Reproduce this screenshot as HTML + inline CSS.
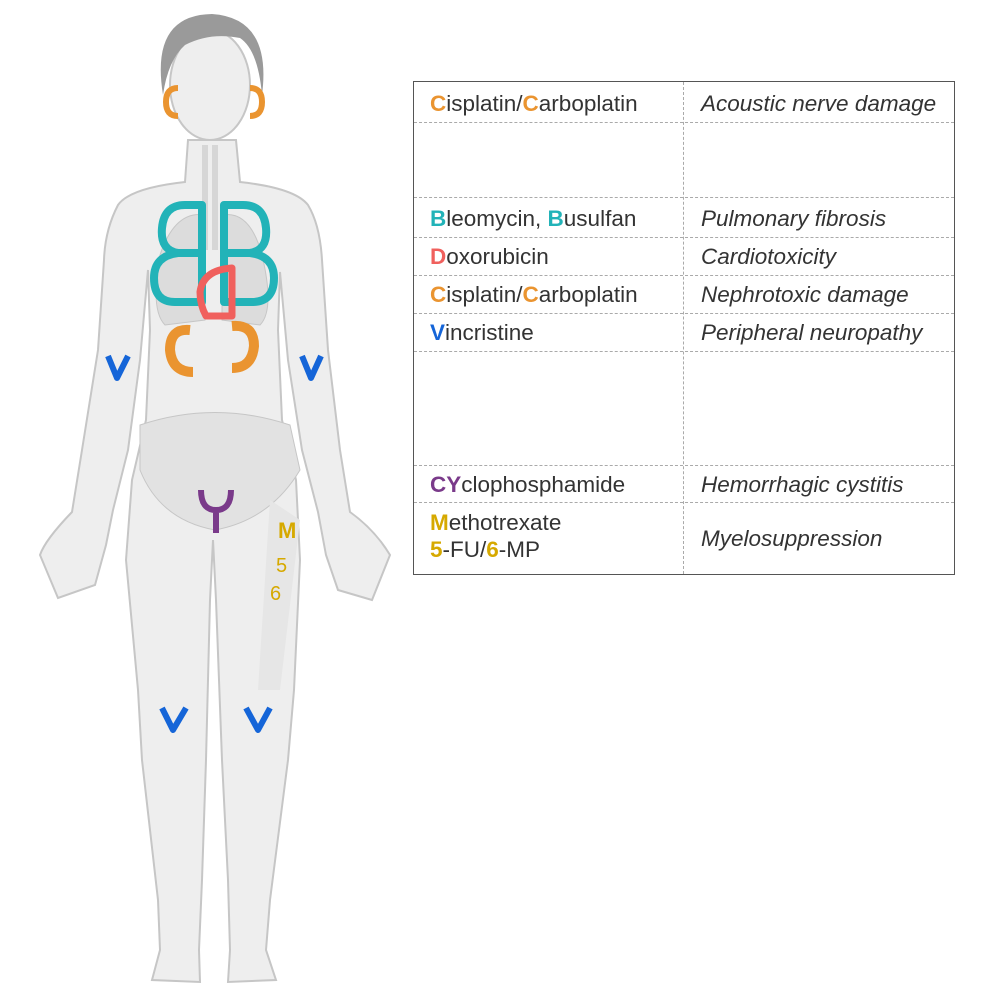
<!DOCTYPE html>
<html><head><style>
body{margin:0;width:984px;height:1000px;background:#fff;position:relative;font-family:"Liberation Sans",sans-serif;overflow:hidden}
#t{position:absolute;left:413px;top:81px;width:540px;height:492px;border:1px solid #555;box-sizing:content-box}
.r{position:absolute;left:0;width:540px;border-bottom:1px dashed #aaa;box-sizing:border-box}
.c1,.c2{position:absolute;font-size:22.5px;color:#333;line-height:27px;white-space:nowrap}
.c1{left:16px}.c2{left:287px;font-style:italic}
#vl{position:absolute;left:269px;top:0;height:492px;border-left:1px dashed #aaa}
b{font-weight:bold}
</style></head><body>
<svg width="984" height="1000" style="position:absolute;left:0;top:0">
<path d="M188,140 L185,182 Q130,188 118,205 Q105,230 104,260 L98,350 L82,450 L72,512 Q45,540 40,555 L58,598 Q75,592 95,585 L106,545 L113,510 L128,450 L140,360 L148,270 L150,330 L146,420 L132,480 L126,560 L138,690 L142,760 L158,900 L160,950 L152,980 L200,982 L199,950 L202,880 L206,760 L210,600 L213,540 L216,600 L222,760 L228,880 L230,950 L228,982 L276,980 L266,950 L270,900 L288,760 L294,690 L300,560 L296,480 L282,420 L278,330 L280,272 L288,360 L302,450 L318,512 L326,555 L338,590 L372,600 L390,555 Q375,530 350,512 L340,450 L328,350 L322,260 Q320,225 308,205 Q295,188 240,182 L236,140 Z" fill="#eeeeee" stroke="#c6c6c6" stroke-width="2"/>
<ellipse cx="210" cy="85" rx="40" ry="55" fill="#eeeeee" stroke="#c6c6c6" stroke-width="2"/>
<path d="M163,95 Q150,15 212,14 Q272,18 262,95 Q258,50 240,38 Q210,32 185,45 Q168,60 163,95 Z" fill="#9a9a9a"/>
<path d="M160,255 Q150,310 165,325 L205,320 L205,215 Q175,210 160,255Z M262,255 Q275,310 260,325 L222,320 L222,215 Q250,210 262,255Z" fill="#dcdcdc" stroke="#c6c6c6"/>
<path d="M140,425 Q215,400 290,425 L300,470 Q270,520 215,530 Q160,520 140,470Z" fill="#e2e2e2" stroke="#c6c6c6"/>
<path d="M205,145 L205,250 M215,145 L215,250" stroke="#d6d6d6" stroke-width="6"/>
<path d="M270,500 L300,520 L280,690 L258,690Z" fill="#e6e6e6"/>
<g fill="none" stroke-width="8" stroke-linejoin="round">
<path d="M178,88 Q166,88 166,102 Q166,116 178,116" stroke="#ea9430" stroke-width="6"/>
<path d="M250,88 Q262,88 262,102 Q262,116 250,116" stroke="#ea9430" stroke-width="6"/>
<path d="M202,205 L202,302 L175,302 Q154,302 154,278 Q154,256 178,253 Q160,250 162,228 Q164,205 185,205 Z M202,253 L178,253" stroke="#22b3b8"/>
<path d="M224,205 L224,302 L252,302 Q274,302 274,278 Q274,256 250,253 Q268,250 266,228 Q264,205 243,205 Z M224,253 L250,253" stroke="#22b3b8"/>
<path d="M232,268 L232,316 L206,316 Q200,305 200,292 Q203,270 232,268Z" stroke="#f0605d" stroke-width="7"/>
<path d="M190,330 Q170,328 170,350 Q172,372 193,372" stroke="#ea9430" stroke-width="10"/>
<path d="M232,326 Q254,324 254,346 Q252,368 232,368" stroke="#ea9430" stroke-width="10"/>
<path d="M108,356 L117,378 L128,356 M302,356 L311,378 L321,356 M162,708 L173,730 L186,708 M246,708 L258,730 L270,708" stroke="#1565d8" stroke-width="6"/>
<path d="M201,490 Q201,510 216,510 Q231,510 231,490 M216,510 L216,533" stroke="#7a3a8a" stroke-width="6"/>
</g>
<text x="278" y="538" font-family="Liberation Sans" font-weight="bold" font-size="22" fill="#d6a900">M</text>
<text x="276" y="572" font-family="Liberation Sans" font-size="20" fill="#d6a900">5</text>
<text x="270" y="600" font-family="Liberation Sans" font-size="20" fill="#d6a900">6</text>
</svg>
<div id="t">
<div class="r" style="top:0;height:41px"><span class="c1" style="top:8px"><b style="color:#ea9430">C</b>isplatin/<b style="color:#ea9430">C</b>arboplatin</span><span class="c2" style="top:8px">Acoustic nerve damage</span></div>
<div class="r" style="top:41px;height:75px"></div>
<div class="r" style="top:116px;height:40px"><span class="c1" style="top:7px"><b style="color:#22b3b8">B</b>leomycin, <b style="color:#22b3b8">B</b>usulfan</span><span class="c2" style="top:7px">Pulmonary fibrosis</span></div>
<div class="r" style="top:156px;height:38px"><span class="c1" style="top:5px"><b style="color:#f0605d">D</b>oxorubicin</span><span class="c2" style="top:5px">Cardiotoxicity</span></div>
<div class="r" style="top:194px;height:38px"><span class="c1" style="top:5px"><b style="color:#ea9430">C</b>isplatin/<b style="color:#ea9430">C</b>arboplatin</span><span class="c2" style="top:5px">Nephrotoxic damage</span></div>
<div class="r" style="top:232px;height:38px"><span class="c1" style="top:5px"><b style="color:#1565d8">V</b>incristine</span><span class="c2" style="top:5px">Peripheral neuropathy</span></div>
<div class="r" style="top:270px;height:114px"></div>
<div class="r" style="top:384px;height:37px"><span class="c1" style="top:5px"><b style="color:#7a3a8a">CY</b>clophosphamide</span><span class="c2" style="top:5px">Hemorrhagic cystitis</span></div>
<div class="r" style="top:421px;height:71px;border:none"><span class="c1" style="top:6px"><b style="color:#d6a900">M</b>ethotrexate<br><b style="color:#d6a900">5</b>-FU/<b style="color:#d6a900">6</b>-MP</span><span class="c2" style="top:22px">Myelosuppression</span></div>
<div id="vl"></div>
</div>
</body></html>
